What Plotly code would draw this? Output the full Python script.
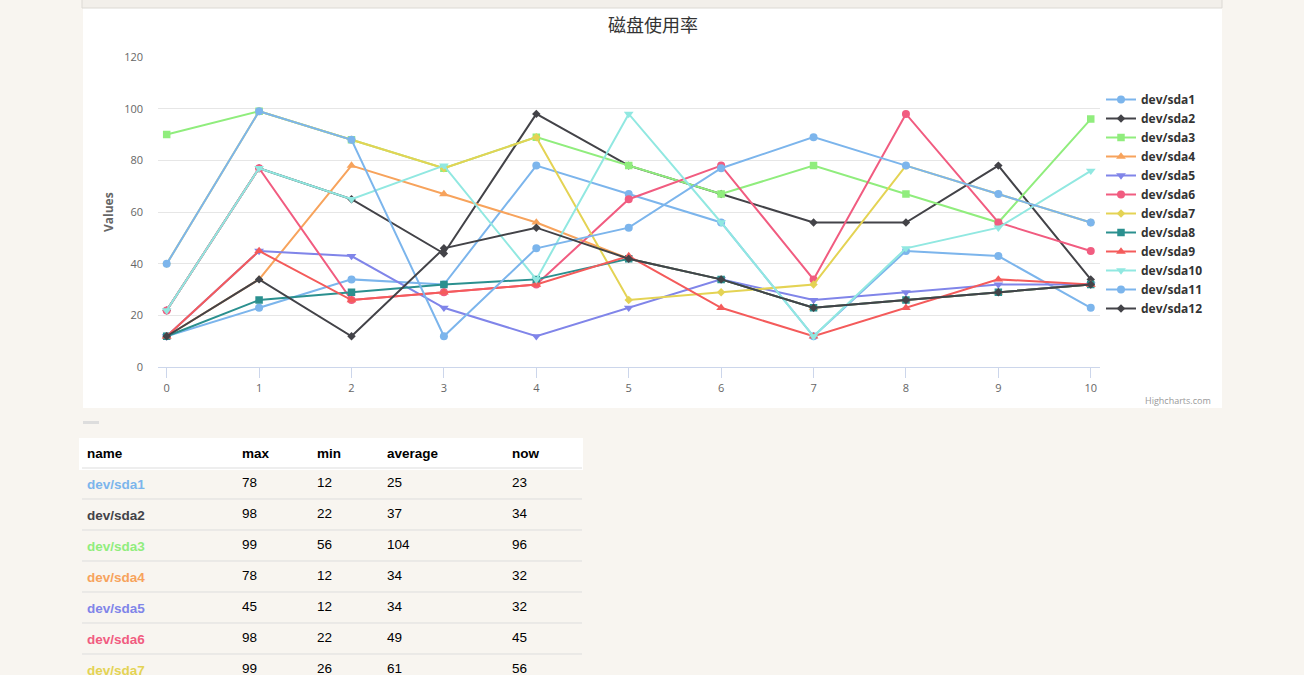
import plotly.graph_objects as go

#### datos del grafico ####
x_vals = list(range(11))

sda1 = [12, 23, 34, 32, 78, 67, 56, 12, 45, 43, 23]
sda2 = [22, 77, 65, 44, 98, 78, 67, 56, 56, 78, 34]
sda3 = [90, 99, 88, 77, 89, 78, 67, 78, 67, 56, 96]
sda4 = [12, 34, 78, 67, 56, 42, 34, 23, 26, 29, 32]
sda5 = [12, 45, 43, 23, 12, 23, 34, 26, 29, 32, 32]
sda6 = [22, 77, 26, 29, 32, 65, 78, 34, 98, 56, 45]
sda7 = [40, 99, 88, 77, 89, 26, 29, 32, 78, 67, 56]
sda8 = [12, 26, 29, 32, 34, 42, 34, 23, 26, 29, 32]
sda9 = [12, 45, 26, 29, 32, 43, 23, 12, 23, 34, 32]
sda10 = [22, 77, 65, 78, 34, 98, 56, 12, 46, 54, 76]
sda11 = [40, 99, 88, 12, 46, 54, 77, 89, 78, 67, 56]
sda12 = [12, 34, 12, 46, 54, 42, 34, 23, 26, 29, 32]

series_names = ['dev/sda1', 'dev/sda2', 'dev/sda3', 'dev/sda4', 'dev/sda5', 'dev/sda6',
                'dev/sda7', 'dev/sda8', 'dev/sda9', 'dev/sda10', 'dev/sda11', 'dev/sda12']
series_vals = [sda1, sda2, sda3, sda4, sda5, sda6, sda7, sda8, sda9, sda10, sda11, sda12]

#### tabla de abajo ####
tab_name = ['dev/sda1', 'dev/sda2', 'dev/sda3', 'dev/sda4', 'dev/sda5', 'dev/sda6', 'dev/sda7']
tab_max = [78, 98, 99, 78, 45, 98, 99]
tab_min = [12, 22, 56, 12, 12, 22, 26]
tab_avg = [25, 37, 104, 34, 34, 49, 61]
tab_now = [23, 34, 96, 32, 32, 45, 56]

## colores y marcadores tipo highcharts
colores = ['#7cb5ec', '#434348', '#90ed7d', '#f7a35c', '#8085e9', '#f15c80',
           '#e4d354', '#2b908f', '#f45b5b', '#91e8e1', '#7cb5ec', '#434348']
simbolos = ['circle', 'diamond', 'square', 'triangle-up', 'triangle-down', 'circle',
            'diamond', 'square', 'triangle-up', 'triangle-down', 'circle', 'diamond']
tam_simbolo = {'circle': 8, 'diamond': 6.5, 'square': 7.5, 'triangle-up': 8.5, 'triangle-down': 8.5}

W, H = 1304, 675
fondo = '#f8f5f0'

def px_x(p):
    return p / W

def px_y(p):
    return 1 - p / H

fig = go.Figure()

for nom, vals, col, sim in zip(series_names, series_vals, colores, simbolos):
    fig.add_trace(go.Scatter(x=x_vals, y=vals, name=nom, mode='lines+markers',
                             line=dict(color=col, width=2),
                             marker=dict(color=col, symbol=sim, size=tam_simbolo[sim])))

## tabla
fig.add_trace(go.Table(
    domain=dict(x=[px_x(79), px_x(582)], y=[0, px_y(438)]),
    columnwidth=[155, 75, 70, 125, 78],
    header=dict(values=['<b>name</b>', '<b>max</b>', '<b>min</b>', '<b>average</b>', '<b>now</b>'],
                fill_color='white', line_color='white', align='left', height=30,
                font=dict(family='Liberation Sans', size=13.5, color='black')),
    cells=dict(values=[['<b>' + n + '</b>' for n in tab_name], tab_max, tab_min, tab_avg, tab_now],
               fill_color=fondo, line_color=fondo, align='left', height=31,
               font=dict(family='Liberation Sans', size=13.5,
                         color=[colores[:len(tab_name)], 'black', 'black', 'black', 'black']))
))

## cajas y lineas de fondo
shapes = [
    dict(type='rect', xref='paper', yref='paper', x0=px_x(83), x1=px_x(1222), y0=px_y(408), y1=px_y(8),
         fillcolor='white', line=dict(width=0), layer='below'),
    dict(type='rect', xref='paper', yref='paper', x0=px_x(82), x1=px_x(1222), y0=px_y(8), y1=px_y(-2),
         fillcolor='#f2efea', line=dict(color='#dcd9d4', width=1), layer='below'),
    dict(type='rect', xref='paper', yref='paper', x0=px_x(83), x1=px_x(99), y0=px_y(424), y1=px_y(421),
         fillcolor='#dddddd', line=dict(width=0), layer='below'),
]
for yy in [468, 499, 530, 561, 592, 623, 654]:
    shapes.append(dict(type='line', xref='paper', yref='paper', x0=px_x(82), x1=px_x(582),
                       y0=px_y(yy), y1=px_y(yy), line=dict(color='#dddddd', width=1), layer='above'))

fig.update_layout(
    width=W, height=H,
    margin=dict(l=0, r=0, t=0, b=0, autoexpand=False),
    paper_bgcolor=fondo, plot_bgcolor='white',
    font=dict(family='Open Sans', color='#666666'),
    title=dict(text='磁盘使用率', x=px_x(653), y=px_y(26), xanchor='center', yanchor='middle',
               font=dict(family='Noto Sans CJK SC', size=18, color='#333333')),
    xaxis=dict(domain=[px_x(158), px_x(1100)], range=[-0.094, 10.1], dtick=1,
               showgrid=False, zeroline=False, showline=True, linecolor='#ccd6eb',
               ticks='outside', ticklen=10, tickcolor='#ccd6eb',
               tickfont=dict(size=11, color='#666666')),
    yaxis=dict(domain=[px_y(367.3), px_y(57)], range=[0, 120], dtick=20,
               showgrid=True, gridcolor='#e6e6e6', zeroline=False, showline=False,
               ticklabelstandoff=14, tickfont=dict(size=11, color='#666666')),
    legend=dict(x=px_x(1101), y=px_y(85), xanchor='left', yanchor='top',
                bgcolor='rgba(0,0,0,0)', itemwidth=30,
                font=dict(family='Open Sans', size=12, color='#333333', weight='bold')),
    shapes=shapes,
    annotations=[
        dict(text='Values', xref='paper', yref='paper', x=px_x(108), y=px_y(212), textangle=-90,
             xanchor='center', yanchor='middle',
             showarrow=False, font=dict(size=12, color='#666666', weight='bold')),
        dict(text='Highcharts.com', xref='paper', yref='paper', x=px_x(1213), y=px_y(400),
             xanchor='right', yanchor='middle', showarrow=False, font=dict(size=9, color='#999999')),
    ]
)

## quitar el margen del body para que la figura llene la ventana
fig.write_html("out.html", config={'displayModeBar': False},
               post_script="document.body.style.margin='0';document.body.style.overflow='hidden';")
